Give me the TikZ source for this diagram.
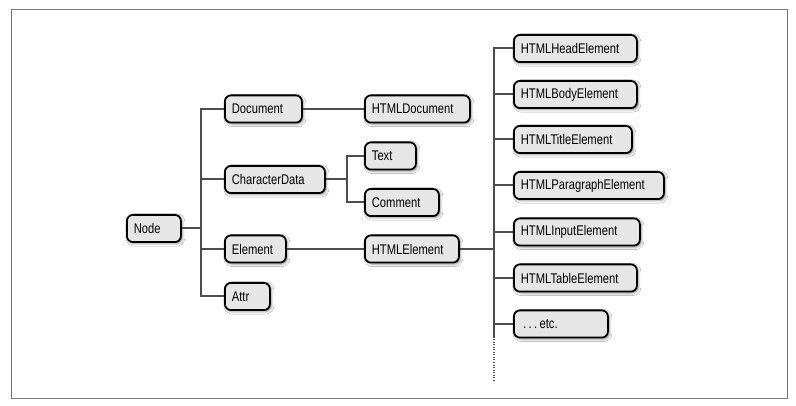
\documentclass[tikz,border=0pt]{standalone}
\usepackage{fontspec}
\setmainfont{Liberation Sans}[FakeStretch=0.8]
\usetikzlibrary{shadows.blur}
\definecolor{boxgray}{HTML}{E6E6E6}
\definecolor{linkgray}{HTML}{4D4D4D}
\definecolor{framegray}{HTML}{767676}
\tikzset{
  box/.style={draw, line width=1.8pt, rounded corners=6pt, fill=boxgray,
    anchor=west, inner xsep=7pt, inner ysep=0pt, minimum height=27.2pt,
    text width=#1, align=left, font=\fontsize{14}{16}\selectfont,
    blur shadow={shadow xshift=1.5pt, shadow yshift=-1.5pt, shadow blur radius=2.5pt, shadow opacity=45}},
  link/.style={draw=linkgray, line width=2pt},
}
\begin{document}
\begin{tikzpicture}[x=1pt,y=-1pt]
	\useasboundingbox[fill=white] (0,0) rectangle (796,406);
	% the frame
	\draw[framegray, line width=1pt] (11,9.5) rectangle (787,398);
	% the root
	\node[box=40pt] (node) at (126,228.5) {Node};
	% first level
	\node[box=63pt] (doc) at (224,109) {Document};
	\node[box=86pt] (chr) at (224,179.5) {CharacterData};
	\node[box=47pt] (elem) at (224,249) {Element};
	\node[box=31pt] (attr) at (224,296.5) {Attr};
	% second level
	\node[box=91pt] (htmldoc) at (364,109) {HTMLDocument};
	\node[box=37pt] (text) at (364,156) {Text};
	\node[box=60pt] (comment) at (364,202.5) {Comment};
	\node[box=80pt] (htmlel) at (364,249) {HTMLElement};
	% the HTML elements
	\node[box=109pt] (head) at (513,48.5) {HTMLHeadElement};
	\node[box=109pt] (body) at (513,94.5) {HTMLBodyElement};
	\node[box=104pt] (title) at (513,139.5) {HTMLTitleElement};
	\node[box=136pt] (para) at (513,185.5) {HTMLParagraphElement};
	\node[box=112pt] (input) at (513,232) {HTMLInputElement};
	\node[box=109pt] (table) at (513,278) {HTMLTableElement};
	\node[box=80pt] (etc) at (513,324) {\,.\,.\,.\,etc.};
	% links from Node
	\draw[link] (node.east) -- ++(19,0) coordinate (t1);
	\draw[link] (doc.west) -| (t1) |- (attr.west);
	\draw[link] (chr.west) -- (chr.west -| t1);
	\draw[link] (elem.west) -- (elem.west -| t1);
	% links from Document and CharacterData
	\draw[link] (doc.east) -- (htmldoc.west);
	\draw[link] (chr.east) -- ++(21,0) coordinate (t2);
	\draw[link] (text.west) -| (t2) |- (comment.west);
	% links from Element
	\draw[link] (elem.east) -- (htmlel.west);
	\draw[link] (htmlel.east) -- ++(34,0) coordinate (t3);
	\draw[link] (head.west) -| (t3) |- (etc.west);
	\foreach \n in {body,title,para,input,table}
		\draw[link] (\n.west) -- (\n.west -| t3);
	\draw[link] (etc.west -| t3) -- ++(0,13) coordinate (t4);
	\draw[link, line width=1.5pt, dash pattern=on 1pt off 1.5pt] (t4) -- ++(0,43);
\end{tikzpicture}
\end{document}
